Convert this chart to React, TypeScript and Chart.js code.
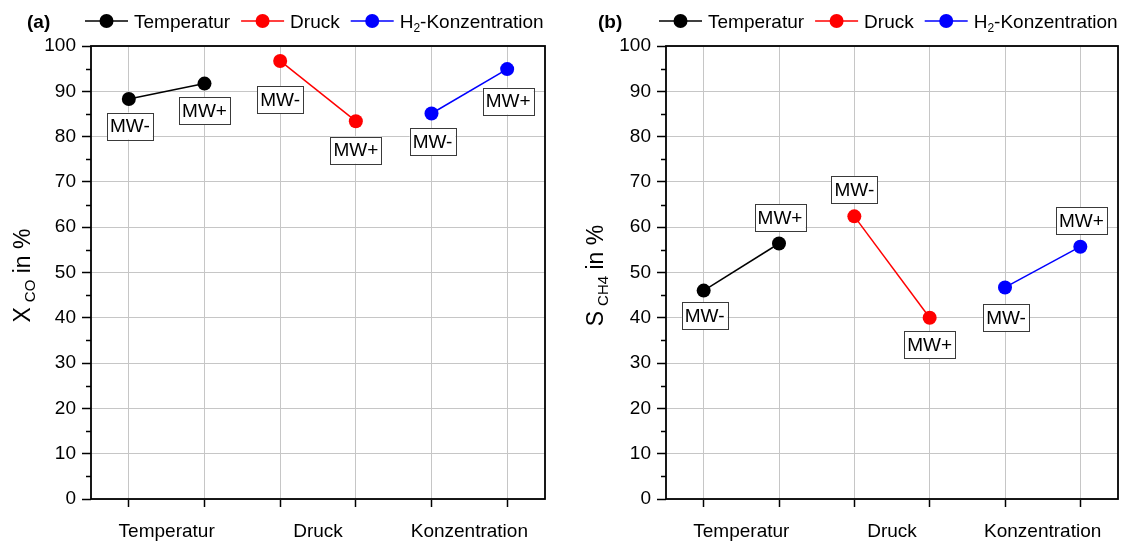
import React, { useEffect, useRef } from 'react';
import { Chart, registerables } from 'chart.js';

Chart.register(...registerables);

// ---------- data ----------
const categories = ['Temperatur', 'Druck', 'Konzentration'];
const seriesNames = ['Temperatur', 'Druck', 'H2-Konzentration'];
const seriesColors = ['#000000', '#ff0000', '#0000ff'];
const levelLabels = ['MW-', 'MW+'];
const seriesXPositions = [[0, 1], [2, 3], [4, 5]];
const categoryTickValues = [0.5, 2.5, 4.5];
const gridXValues = [0, 1, 2, 3, 4, 5];
const yMin = 0;
const yMax = 100;
const yStep = 10;

const xcoTemperatur = [88.3, 91.7];
const xcoDruck = [96.7, 83.4];
const xcoH2 = [85.1, 94.9];

const sch4Temperatur = [46.0, 56.4];
const sch4Druck = [62.4, 40.0];
const sch4H2 = [46.7, 55.7];

// ---------- layout / style ----------
const FONT = "'Liberation Sans', Arial, Helvetica, sans-serif";
const GRID = '#c6c6c6';
const CANVAS_H = 542;

// label box offsets in px relative to the point (dx, dy), one per point
const labelOffsetsA = [[1, 27], [0, 27], [0, 39], [0, 29], [1, 28], [1, 32]];
const labelOffsetsB = [[1, 25], [1, -26], [0, -27], [0, 27], [1, 30], [1, -26]];

type Panel = {
  letter: string;
  titleMain: string;
  titleSub: string;
  values: number[][];
  offsets: number[][];
  width: number;
  plotLeft: number;
  plotRight: number;
  letterX: number;
  legendX: number;
  titleX: number;
};

const panels: Panel[] = [
  {
    letter: '(a)', titleMain: 'X', titleSub: 'CO',
    values: [xcoTemperatur, xcoDruck, xcoH2], offsets: labelOffsetsA,
    width: 562, plotLeft: 91, plotRight: 545, letterX: 27, legendX: 85, titleX: 30,
  },
  {
    letter: '(b)', titleMain: 'S', titleSub: 'CH4',
    values: [sch4Temperatur, sch4Druck, sch4H2], offsets: labelOffsetsB,
    width: 563, plotLeft: 104, plotRight: 557, letterX: 36, legendX: 97, titleX: 41,
  },
];

const isInt = (v: number) => Math.abs(v - Math.round(v)) < 1e-9;

function drawParts(ctx: CanvasRenderingContext2D, parts: { t: string; size: number; dy: number; gap?: number }[], x: number, y: number) {
  let cx = x;
  for (const p of parts) {
    cx += p.gap || 0;
    ctx.font = `${p.size}px ${FONT}`;
    ctx.fillText(p.t, cx, y + p.dy);
    cx += ctx.measureText(p.t).width;
  }
  return cx;
}

function partsWidth(ctx: CanvasRenderingContext2D, parts: { t: string; size: number; dy: number; gap?: number }[]) {
  let w = 0;
  for (const p of parts) {
    ctx.font = `${p.size}px ${FONT}`;
    w += (p.gap || 0) + ctx.measureText(p.t).width;
  }
  return w;
}

function makePlugin(panel: Panel) {
  return {
    id: 'decor',
    beforeDatasetsDraw(chart: any) {
      const ctx: CanvasRenderingContext2D = chart.ctx;
      const { left, right, top, bottom } = chart.chartArea;
      const y = chart.scales.y;
      ctx.save();
      // minor ticks
      ctx.strokeStyle = '#000';
      ctx.lineWidth = 1.5;
      for (let v = yMin + yStep / 2; v < yMax; v += yStep) {
        const py = Math.round(y.getPixelForValue(v)) + 0.5;
        ctx.beginPath();
        ctx.moveTo(left - 5, py);
        ctx.lineTo(left, py);
        ctx.stroke();
      }
      // frame
      ctx.lineWidth = 1.8;
      ctx.strokeRect(left, top, right - left, bottom - top);
      ctx.restore();
    },
    afterDatasetsDraw(chart: any) {
      const ctx: CanvasRenderingContext2D = chart.ctx;
      const xs = chart.scales.x;
      const ys = chart.scales.y;
      ctx.save();
      // point labels
      ctx.font = `19px ${FONT}`;
      ctx.textAlign = 'center';
      ctx.textBaseline = 'middle';
      let k = 0;
      panel.values.forEach((vals, si) => {
        vals.forEach((v, pi) => {
          const px = xs.getPixelForValue(seriesXPositions[si][pi]);
          const py = ys.getPixelForValue(v);
          const [dx, dy] = panel.offsets[k++];
          const text = levelLabels[pi];
          const w = ctx.measureText(text).width + 6;
          const h = 27;
          const cx = px + dx;
          const cy = py + dy;
          ctx.fillStyle = '#ffffff';
          ctx.fillRect(cx - w / 2, cy - h / 2, w, h);
          ctx.strokeStyle = '#3a3a3a';
          ctx.lineWidth = 1;
          ctx.strokeRect(Math.round(cx - w / 2) + 0.5, Math.round(cy - h / 2) + 0.5, Math.round(w), h);
          ctx.fillStyle = '#000';
          ctx.fillText(text, cx, cy + 1);
        });
      });
      ctx.restore();
    },
    afterDraw(chart: any) {
      const ctx: CanvasRenderingContext2D = chart.ctx;
      const { top, bottom } = chart.chartArea;
      ctx.save();
      ctx.fillStyle = '#000';
      ctx.textBaseline = 'alphabetic';
      ctx.textAlign = 'left';
      // panel letter
      ctx.font = `bold 19px ${FONT}`;
      ctx.fillText(panel.letter, panel.letterX, 28);
      // legend
      let x = panel.legendX;
      const ly = 21;
      seriesNames.forEach((name, i) => {
        ctx.strokeStyle = seriesColors[i];
        ctx.fillStyle = seriesColors[i];
        ctx.lineWidth = 1.5;
        ctx.beginPath();
        ctx.moveTo(x, ly);
        ctx.lineTo(x + 43, ly);
        ctx.stroke();
        ctx.beginPath();
        ctx.arc(x + 21.5, ly, 7, 0, Math.PI * 2);
        ctx.fill();
        ctx.fillStyle = '#000';
        let end;
        if (name.startsWith('H2')) {
          end = drawParts(ctx, [
            { t: 'H', size: 19, dy: 0 },
            { t: '2', size: 12, dy: 4 },
            { t: name.slice(2), size: 19, dy: 0 },
          ], x + 49, 28);
        } else {
          end = drawParts(ctx, [{ t: name, size: 19, dy: 0 }], x + 49, 28);
        }
        x = end + 11;
      });
      // y-axis title (rotated, with subscript)
      const parts = [
        { t: panel.titleMain, size: 23, dy: 0 },
        { t: panel.titleSub, size: 15, dy: 5, gap: 5 },
        { t: ' in %', size: 23, dy: 0 },
      ];
      ctx.translate(panel.titleX, (top + bottom) / 2 + 3);
      ctx.rotate(-Math.PI / 2);
      const tw = partsWidth(ctx, parts);
      drawParts(ctx, parts, -tw / 2, 0);
      ctx.restore();
    },
  };
}

function PanelChart({ panel, left }: { panel: Panel; left: number }) {
  const ref = useRef<HTMLCanvasElement | null>(null);
  useEffect(() => {
    if (!ref.current) return;
    const datasets = panel.values.map((vals, si) => ({
      label: seriesNames[si],
      data: vals.map((v, pi) => ({ x: seriesXPositions[si][pi], y: v })),
      borderColor: seriesColors[si],
      backgroundColor: seriesColors[si],
      pointBackgroundColor: seriesColors[si],
      pointBorderColor: seriesColors[si],
      pointRadius: 7,
      pointBorderWidth: 0,
      borderWidth: 1.5,
      showLine: true,
      fill: false,
      tension: 0,
    }));
    const chart = new Chart(ref.current, {
      type: 'line',
      data: { datasets },
      options: {
        responsive: false,
        animation: false,
        devicePixelRatio: 1,
        layout: { padding: { left: 0, right: panel.width - panel.plotRight, top: 46, bottom: 0 } },
        plugins: { legend: { display: false }, tooltip: { enabled: false }, title: { display: false } },
        scales: {
          x: {
            type: 'linear',
            min: -0.5,
            max: 5.5,
            afterBuildTicks: (s: any) => {
              s.ticks = [...gridXValues, ...categoryTickValues].sort((a, b) => a - b).map((v) => ({ value: v }));
            },
            afterFit: (s: any) => { s.height = CANVAS_H - 499; },
            border: { display: false },
            grid: {
              color: (c: any) => (c.tick && isInt(c.tick.value) ? GRID : 'rgba(0,0,0,0)'),
              tickColor: (c: any) => (c.tick && isInt(c.tick.value) ? '#000' : 'rgba(0,0,0,0)'),
              lineWidth: 1,
              tickWidth: 1.5,
              tickLength: 8,
              drawTicks: true,
            },
            ticks: {
              autoSkip: false,
              maxRotation: 0,
              minRotation: 0,
              padding: 13,
              color: '#000',
              font: { family: FONT, size: 19 },
              callback: (v: any) => {
                const idx = categoryTickValues.findIndex((c) => Math.abs(c - Number(v)) < 1e-6);
                return idx >= 0 ? categories[idx] : '';
              },
            },
          },
          y: {
            min: yMin,
            max: yMax,
            afterFit: (s: any) => { s.width = panel.plotLeft; },
            border: { display: false },
            grid: {
              color: GRID,
              tickColor: '#000',
              lineWidth: 1,
              tickWidth: 1.5,
              tickLength: 9,
              drawTicks: true,
            },
            ticks: {
              stepSize: yStep,
              padding: 6,
              color: '#000',
              font: { family: FONT, size: 19 },
            },
          },
        },
      },
      plugins: [makePlugin(panel)],
    } as any);
    return () => chart.destroy();
  }, [panel]);
  return (
    <canvas
      ref={ref}
      width={panel.width}
      height={CANVAS_H}
      style={{ position: 'absolute', left, top: 0, width: panel.width, height: CANVAS_H }}
    />
  );
}

export default function App() {
  return (
    <div style={{ position: 'absolute', left: 0, top: 0, width: 1125, height: 542, background: '#fff', overflow: 'hidden' }}>
      <PanelChart panel={panels[0]} left={0} />
      <PanelChart panel={panels[1]} left={562} />
    </div>
  );
}
